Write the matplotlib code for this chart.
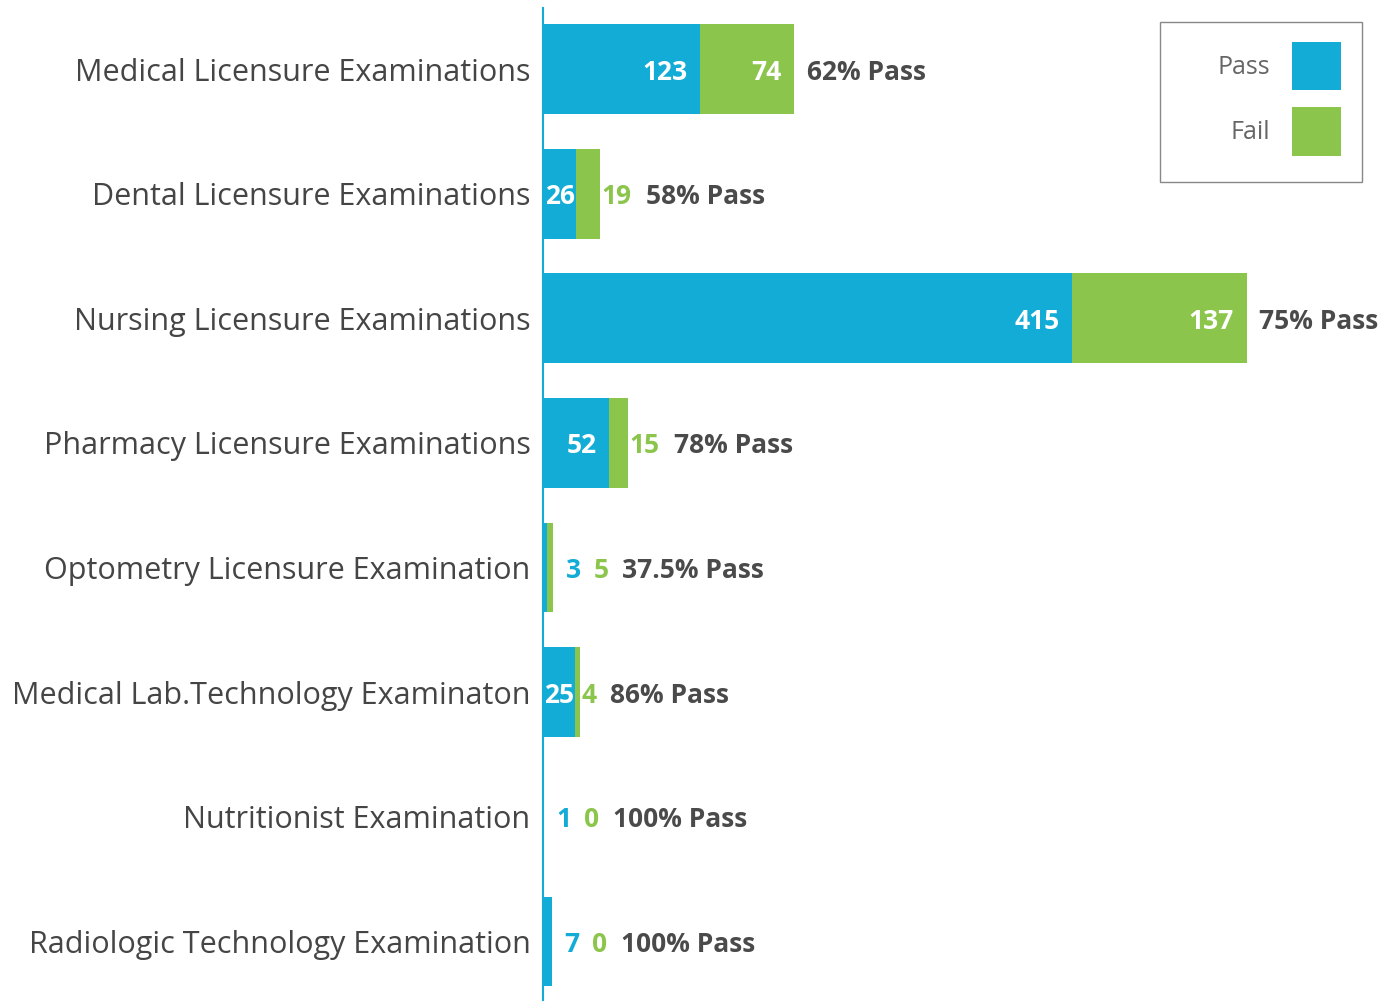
import matplotlib
matplotlib.use('Agg')
import matplotlib.pyplot as plt
from matplotlib.patches import Patch, Rectangle

plt.rcParams['font.family'] = ['Open Sans', 'DejaVu Sans']

# Data
exams = ['Medical Licensure Examinations', 'Dental Licensure Examinations',
         'Nursing Licensure Examinations', 'Pharmacy Licensure Examinations',
         'Optometry Licensure Examination', 'Medical Lab.Technology Examinaton',
         'Nutritionist Examination', 'Radiologic Technology Examination']
passed = [123, 26, 415, 52, 3, 25, 1, 7]
failed = [74, 19, 137, 15, 5, 4, 0, 0]
pass_rate = ['62% Pass', '58% Pass', '75% Pass', '78% Pass',
             '37.5% Pass', '86% Pass', '100% Pass', '100% Pass']

BLUE = '#12acd6'
GREEN = '#8cc54c'
DARK = '#4a4a4a'


def main():
    W, H = 1388, 1002
    fig = plt.figure(figsize=(W / 100, H / 100), dpi=100)
    ax = fig.add_axes([543 / W, 0.002, 1 - 543 / W, 0.99])

    y = list(range(len(exams)))
    ax.barh(y, passed, height=0.72, color=BLUE)
    ax.barh(y, failed, left=passed, height=0.72, color=GREEN)

    ax.set_xlim(0, 663)
    ax.set_ylim(7.47, -0.49)
    ax.set_yticks(y)
    ax.set_yticklabels(exams, fontsize=22, color='#454545')
    ax.tick_params(axis='y', length=0, pad=9)
    ax.set_xticks([])
    for s in ['top', 'right', 'bottom']:
        ax.spines[s].set_visible(False)
    ax.spines['left'].set_color(BLUE)
    ax.spines['left'].set_linewidth(1.5)

    fig.canvas.draw()
    num_kw = dict(fontsize=19, fontweight='bold', textcoords='offset points')

    for i in y:
        p, f = passed[i], failed[i]
        prev = None  # last outside label, next one is chained to it
        # pass count
        if p >= 20:
            if p >= 40:
                ax.annotate(str(p), (p, i), xytext=(-9, 0), ha='right',
                            va='center_baseline', color='white', **num_kw)
            else:
                ax.annotate(str(p), (p / 2, i), xytext=(0, 0), ha='center',
                            va='center_baseline', color='white', **num_kw)
        else:
            prev = ax.annotate(str(p), (p + f, i), xytext=(9, 0), ha='left',
                               va='center_baseline', color=BLUE, **num_kw)
        # fail count
        if f >= 20:
            ax.annotate(str(f), (p + f, i), xytext=(-9, 0), ha='right',
                        va='center_baseline', color='white', **num_kw)
        elif prev is None:
            prev = ax.annotate(str(f), (p + f, i), xytext=(1, 0), ha='left',
                               va='center_baseline', color=GREEN, **num_kw)
        else:
            prev = ax.annotate(str(f), (1, 0), xycoords=prev, xytext=(9, 0),
                               ha='left', va='bottom', color=GREEN, **num_kw)
        # pass rate
        if prev is None:
            ax.annotate(pass_rate[i], (p + f, i), xytext=(9, 0), ha='left',
                        va='center_baseline', color=DARK, **num_kw)
        else:
            ax.annotate(pass_rate[i], (1, 0), xycoords=prev, xytext=(10, 0),
                        ha='left', va='bottom', color=DARK, **num_kw)

    # legend box drawn separately so the wide left padding matches
    fig.patches.append(Rectangle((1160 / W, 1 - 182 / H), 202 / W, 160 / H,
                                 transform=fig.transFigure, fill=False,
                                 edgecolor='#888888', linewidth=1.0))
    handles = [Patch(facecolor=BLUE, label='Pass'), Patch(facecolor=GREEN, label='Fail')]
    fig.legend(handles=handles, loc='upper right',
               bbox_to_anchor=(1341 / W, 1 - 42 / H), markerfirst=False,
               fontsize=18, handlelength=1.96, handleheight=2.6,
               labelspacing=0.68, borderpad=0, handletextpad=0.88,
               frameon=False, labelcolor='#666666', borderaxespad=0)

    plt.savefig('out.png', dpi=100)


if __name__ == '__main__':
    main()
